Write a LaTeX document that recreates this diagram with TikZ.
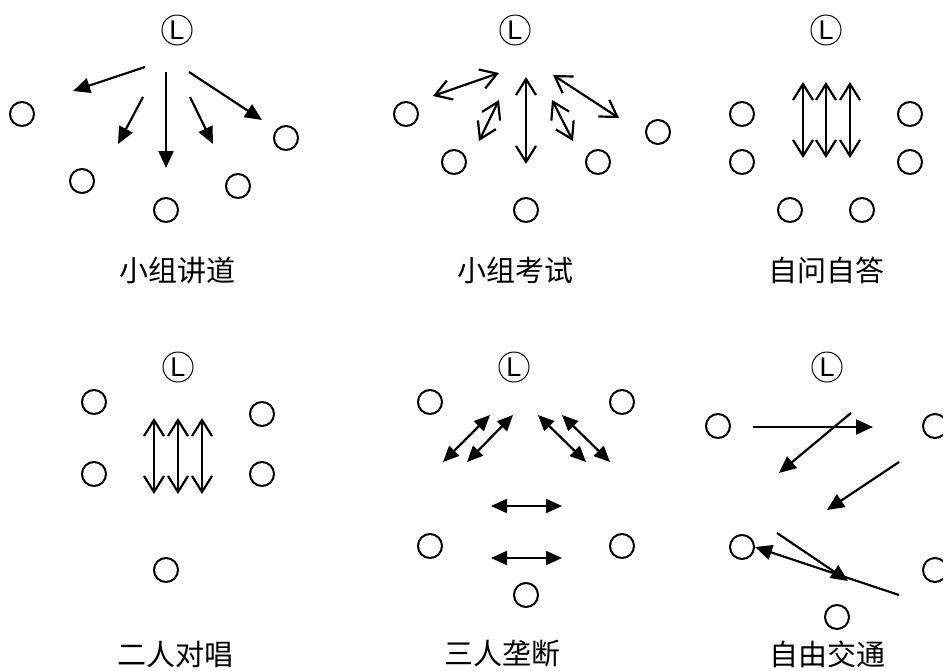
\documentclass[tikz,border=0pt]{standalone}
\usepackage{fontspec}
\newfontfamily\cjk{Noto Sans CJK SC}
\newfontfamily\lsans{Liberation Sans}
\usetikzlibrary{arrows.meta}
\begin{document}
\begin{tikzpicture}[x=1pt,y=-1pt,
  seat/.style={draw, circle, line width=2pt, minimum size=24pt, inner sep=0pt},
  lead/.style={draw, circle, line width=1pt, minimum size=30pt, inner sep=0pt, font=\lsans\fontsize{27}{27}\selectfont},
  lbl/.style={font=\cjk\fontsize{29}{30}\selectfont, inner sep=0pt},
  one/.style={line width=2.2pt, -{Triangle[length=17pt,width=15pt]}},
  two/.style={line width=2.2pt, {Straight Barb[length=16pt,width=20pt]}-{Straight Barb[length=16pt,width=20pt]}},
  dbl/.style={line width=2.2pt, {Triangle[length=16pt,width=14pt]}-{Triangle[length=16pt,width=14pt]}}]
\clip (0,0) rectangle (943,670);
\fill[white] (0,0) rectangle (943,670);

% ---------- Panel 1: 小组讲道 ----------
\node[lead] (L1) at (177,30) {L};
\node[seat] (a1) at (22,114) {};
\node[seat] (a2) at (82,181) {};
\node[seat] (a3) at (166,210) {};
\node[seat] (a4) at (238,186) {};
\node[seat] (a5) at (286,138) {};
\coordinate (a1s) at (145,67);  \coordinate (a1e) at (73,91);
\coordinate (a2s) at (143,97);  \coordinate (a2e) at (118,144);
\coordinate (a3s) at (166,72);  \coordinate (a3e) at (166,168);
\coordinate (a4s) at (190,97);  \coordinate (a4e) at (213,144);
\coordinate (a5s) at (189,72);  \coordinate (a5e) at (262,120);
\draw[one] (a1s) -- (a1e);
\draw[one] (a2s) -- (a2e);
\draw[one] (a3s) -- (a3e);
\draw[one] (a4s) -- (a4e);
\draw[one] (a5s) -- (a5e);
\node[lbl] (t1) at (177,270) {小组讲道};

% ---------- Panel 2: 小组考试 ----------
\node[lead] (L2) at (515,30) {L};
\node[seat] (b1) at (406,114) {};
\node[seat] (b2) at (454,162) {};
\node[seat] (b3) at (526,210) {};
\node[seat] (b4) at (598,162) {};
\node[seat] (b5) at (658,132) {};
\coordinate (b1s) at (433,96);  \coordinate (b1e) at (499,73);
\coordinate (b2s) at (479,141); \coordinate (b2e) at (499,100);
\coordinate (b3s) at (526,77);  \coordinate (b3e) at (526,164);
\coordinate (b4s) at (552,100); \coordinate (b4e) at (573,141);
\coordinate (b5s) at (553,75);  \coordinate (b5e) at (619,118);
\draw[two] (b1s) -- (b1e);
\draw[two] (b2s) -- (b2e);
\draw[two] (b3s) -- (b3e);
\draw[two] (b4s) -- (b4e);
\draw[two] (b5s) -- (b5e);
\node[lbl] (t2) at (515,270) {小组考试};

% ---------- Panel 3: 自问自答 ----------
\node[lead] (L3) at (826,30) {L};
\node[seat] (c1) at (742,114) {};
\node[seat] (c2) at (742,162) {};
\node[seat] (c3) at (910,114) {};
\node[seat] (c4) at (910,162) {};
\node[seat] (c5) at (790,210) {};
\node[seat] (c6) at (862,210) {};
\coordinate (c1s) at (803,82);  \coordinate (c1e) at (803,158);
\coordinate (c2s) at (826,82);  \coordinate (c2e) at (826,158);
\coordinate (c3s) at (850,82);  \coordinate (c3e) at (850,158);
\draw[two] (c1s) -- (c1e);
\draw[two] (c2s) -- (c2e);
\draw[two] (c3s) -- (c3e);
\node[lbl] (t3) at (826,270) {自问自答};

% ---------- Panel 4: 二人对唱 ----------
\node[lead] (L4) at (178,367) {L};
\node[seat] (d1) at (94,402) {};
\node[seat] (d2) at (94,474) {};
\node[seat] (d3) at (262,414) {};
\node[seat] (d4) at (262,474) {};
\node[seat] (d5) at (166,570) {};
\coordinate (d1s) at (154,418); \coordinate (d1e) at (154,494);
\coordinate (d2s) at (178,418); \coordinate (d2e) at (178,494);
\coordinate (d3s) at (202,418); \coordinate (d3e) at (202,494);
\draw[two] (d1s) -- (d1e);
\draw[two] (d2s) -- (d2e);
\draw[two] (d3s) -- (d3e);
\node[lbl] (t4) at (175,654) {二人对唱};

% ---------- Panel 5: 三人垄断 ----------
\node[lead] (L5) at (514,367) {L};
\node[seat] (e1) at (430,402) {};
\node[seat] (e2) at (622,402) {};
\node[seat] (e3) at (430,546) {};
\node[seat] (e4) at (622,546) {};
\node[seat] (e5) at (526,595) {};
\coordinate (e1s) at (443,462); \coordinate (e1e) at (490,415);
\coordinate (e2s) at (467,462); \coordinate (e2e) at (513,415);
\coordinate (e3s) at (538,415); \coordinate (e3e) at (586,462);
\coordinate (e4s) at (562,415); \coordinate (e4e) at (610,462);
\coordinate (e5s) at (491,506); \coordinate (e5e) at (562,506);
\coordinate (e6s) at (491,558); \coordinate (e6e) at (562,558);
\draw[dbl] (e1s) -- (e1e);
\draw[dbl] (e2s) -- (e2e);
\draw[dbl] (e3s) -- (e3e);
\draw[dbl] (e4s) -- (e4e);
\draw[dbl] (e5s) -- (e5e);
\draw[dbl] (e6s) -- (e6e);
\node[lbl] (t5) at (502,654) {三人垄断};

% ---------- Panel 6: 自由交通 ----------
\node[lead] (L6) at (827,367) {L};
\node[seat] (f1) at (718,426) {};
\node[seat] (f2) at (742,547) {};
\node[seat] (f3) at (837,617) {};
\node[seat] (f4) at (935,426) {};
\node[seat] (f5) at (935,570) {};
\coordinate (f1s) at (753,427); \coordinate (f1e) at (873,427);
\coordinate (f2s) at (851,413); \coordinate (f2e) at (779,473);
\coordinate (f3s) at (899,462); \coordinate (f3e) at (827,510);
\coordinate (f4s) at (899,595);
\coordinate (f5s) at (777,533); \coordinate (f5e) at (848,581);
\draw[one] (f1s) -- (f1e);
\draw[one] (f2s) -- (f2e);
\draw[one] (f3s) -- (f3e);
\draw[one] (f4s) -- (f2.east);
\draw[one] (f5s) -- (f5e);
\node[lbl] (t6) at (827,654) {自由交通};
\end{tikzpicture}
\end{document}
